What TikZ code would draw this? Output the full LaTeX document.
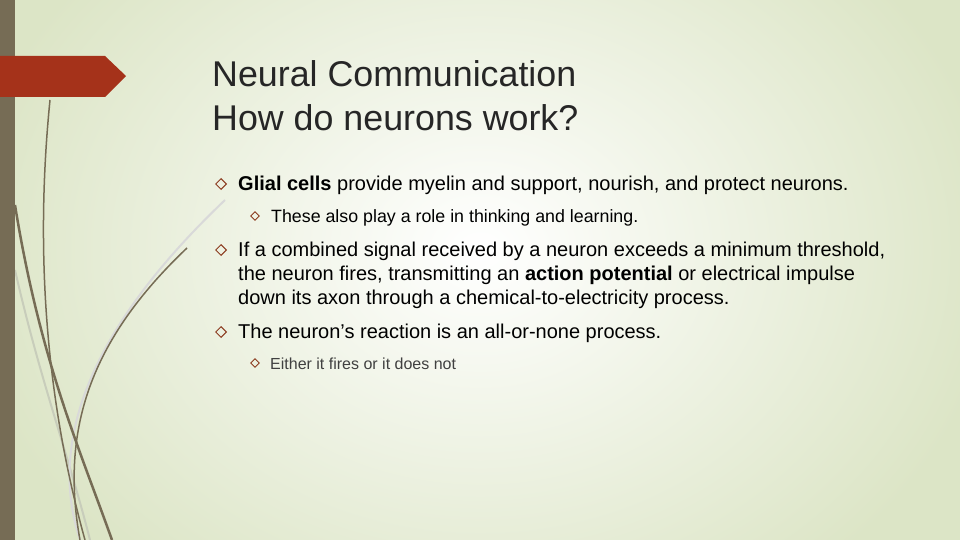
\documentclass[tikz,border=0pt]{standalone}
\usepackage{fontspec}
\usetikzlibrary{shapes.geometric}
\setmainfont{Liberation Sans}
\begin{document}
\begin{tikzpicture}[x=1pt,y=-1pt,
  txt/.style={anchor=base west,inner sep=0pt,font=\fontsize{20}{24}\selectfont,text=black},
  subtxt/.style={anchor=base west,inner sep=0pt,font=\fontsize{17.8}{20}\selectfont,text=black},
  bul/.style={draw=bulc,line width=1pt,shape=diamond,minimum size=11pt,inner sep=0pt},
  sbul/.style={draw=bulc,line width=0.9pt,shape=diamond,minimum size=9pt,inner sep=0pt},
  dk/.style={draw=barc,line width=2.5pt},
  lt/.style={draw=black!15,line width=2pt}]
\definecolor{barc}{HTML}{766C55}
\definecolor{redc}{HTML}{A5321A}
\definecolor{bulc}{HTML}{8B3A1E}
\definecolor{bgl}{HTML}{DCE5C6}
\useasboundingbox (0,0) rectangle (960,540);
\fill[bgl] (0,0) rectangle (960,540);
\begin{scope}
\clip (0,0) rectangle (960,540);
\shade[inner color=white, outer color=bgl] (480,250) ellipse (520 and 420);
\end{scope}
% curves
\draw[lt,draw=bgl!80!black!70] (15,270) .. controls (40,380) and (70,460) .. (90,540);
\draw[lt] (225,200) .. controls (120,300) and (40,420) .. (80,540);
\draw[dk,line width=1.5pt] (50,100) .. controls (30,300) and (60,450) .. (85,540);
\draw[dk] (15,205) .. controls (40,360) and (80,450) .. (112,540);
\draw[dk,line width=1.5pt] (187,248) .. controls (90,340) and (60,430) .. (80,540);
\fill[barc] (0,0) rectangle (15,540);
\fill[redc] (0,56) -- (105,56) -- (126,76) -- (105,97) -- (0,97) -- cycle;
\node[anchor=base west,inner sep=0pt,font=\fontsize{35.8}{42}\selectfont,text=black!85] (t1) at (212,87) {Neural Communication};
\node[anchor=base west,inner sep=0pt,font=\fontsize{35.8}{42}\selectfont,text=black!85] (t2) at (212,131) {How do neurons work?};
\node[bul] (b1) at (221,184) {};
\node[txt] (l1) at (238,190) {\textbf{Glial cells} provide myelin and support, nourish, and protect neurons.};
\node[sbul] (b2) at (255,216) {};
\node[subtxt] (l2) at (271,222) {These also play a role in thinking and learning.};
\node[bul] (b3) at (221,250) {};
\node[txt] (l3) at (238,256) {If a combined signal received by a neuron exceeds a minimum threshold,};
\node[txt] (l4) at (238,280) {the neuron fires, transmitting an \textbf{action potential} or electrical impulse};
\node[txt] (l5) at (238,304) {down its axon through a chemical-to-electricity process.};
\node[bul] (b4) at (221,332) {};
\node[txt] (l6) at (238,338) {The neuron’s reaction is an all-or-none process.};
\node[sbul] (b5) at (255,363) {};
\node[subtxt,font=\fontsize{16}{18}\selectfont,text=black!75] (l7) at (270,369) {Either it fires or it does not};
\end{tikzpicture}
\end{document}
